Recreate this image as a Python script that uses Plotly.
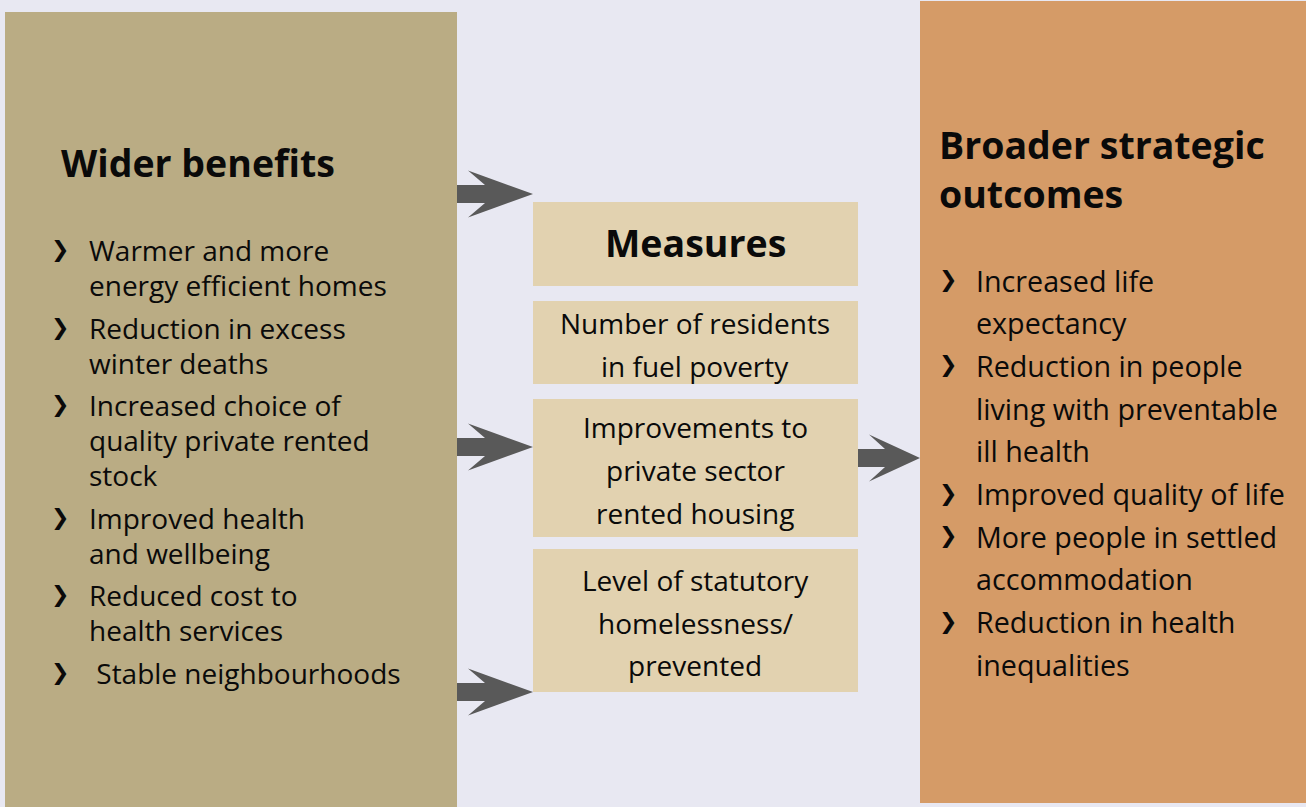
import plotly.graph_objects as go

# ---- content ----
left_title = "Wider benefits"
left_items = [
    ["Warmer and more", "energy efficient homes"],
    ["Reduction in excess", "winter deaths"],
    ["Increased choice of", "quality private rented", "stock"],
    ["Improved health", "and wellbeing"],
    ["Reduced cost to", "health services"],
    [" Stable neighbourhoods"],
]

measures_title = "Measures"
measures = [
    ["Number of residents", "in fuel poverty"],
    ["Improvements to", "private sector", "rented housing"],
    ["Level of statutory", "homelessness/", "prevented"],
]

right_title = ["Broader strategic", "outcomes"]
right_items = [
    ["Increased life", "expectancy"],
    ["Reduction in people", "living with preventable", "ill health"],
    ["Improved quality of life"],
    ["More people in settled", "accommodation"],
    ["Reduction in health", "inequalities"],
]

# ---- style ----
W, H = 1306, 807
BG = "#E8E8F2"
LEFT_C = "#BAAC84"
RIGHT_C = "#D59B67"
MEAS_C = "#E2D2B0"
ARROW_C = "#595959"
FONT = "Open Sans"
TXT = 28
TITLE = 37.5

fig = go.Figure()
shapes = []
ann = []


def rect(x0, y0, x1, y1, color):
    shapes.append(dict(type="rect", xref="x", yref="y", x0=x0, y0=y0, x1=x1, y1=y1,
                       fillcolor=color, line=dict(width=0), layer="below"))


def arrow(x0, x1, yc, back, notch):
    path = (f"M{x0},{yc-9} L{notch},{yc-9} L{back},{yc-23.5} L{x1},{yc} "
            f"L{back},{yc+23.5} L{notch},{yc+9} L{x0},{yc+9} Z")
    shapes.append(dict(type="path", path=path, xref="x", yref="y",
                       fillcolor=ARROW_C, line=dict(width=0)))


def text(x, y, s, size=TXT, bold=False, anchor="left"):
    ann.append(dict(x=x, y=y, xref="x", yref="y", text=f"<b>{s}</b>" if bold else s,
                    showarrow=False, xanchor=anchor, yanchor="middle", align=anchor,
                    font=dict(family=FONT, size=size, color="#0a0a0a")))


def bullet(x, y):
    ann.append(dict(x=x, y=y, xref="x", yref="y", text="❯", showarrow=False,
                    xanchor="left", yanchor="middle",
                    font=dict(family="DejaVu Sans", size=22, color="#0a0a0a")))


# boxes
rect(5, 12, 457, 807, LEFT_C)
rect(920, 1, 1306, 803, RIGHT_C)
meas_boxes = [(202, 286), (301, 384), (399, 537), (549, 692)]
for y0, y1 in meas_boxes:
    rect(533, y0, 858, y1, MEAS_C)

# arrows
for yc in [194, 447, 692]:
    arrow(457, 533, yc, 468, 485)
arrow(858, 920, 458, 869, 885)

# left column
text(59, 162, left_title, size=TITLE, bold=True)
y = 250
for item in left_items:
    bullet(49, y)
    for line in item:
        text(87, y, line)
        y += 35
    y += 7.5

# measures
text(695, 242, measures_title, size=TITLE, bold=True, anchor="center")
for (y0, y1), item in zip(meas_boxes[1:], measures):
    yc = (y0 + y1) / 2 - (len(item) - 1) * 42.7 / 2 + 2
    for line in item:
        text(695, yc, line, anchor="center")
        yc += 42.7

# right column
text(937, 169, "<br>".join(f"<b>{t}</b>" for t in right_title), size=TITLE)
y = 280
for item in right_items:
    bullet(937, y)
    for line in item:
        text(974, y, line, size=28.7)
        y += 42.7

fig.update_layout(
    width=W, height=H,
    margin=dict(l=0, r=0, t=0, b=0),
    paper_bgcolor=BG, plot_bgcolor=BG,
    xaxis=dict(range=[0, W], visible=False, fixedrange=True),
    yaxis=dict(range=[H, 0], visible=False, fixedrange=True),
    shapes=shapes, annotations=ann, showlegend=False,
)

fig.write_html(
    "out.html",
    config={"displayModeBar": False},
    post_script="document.body.style.margin='0';document.body.style.background='%s';" % BG,
)
